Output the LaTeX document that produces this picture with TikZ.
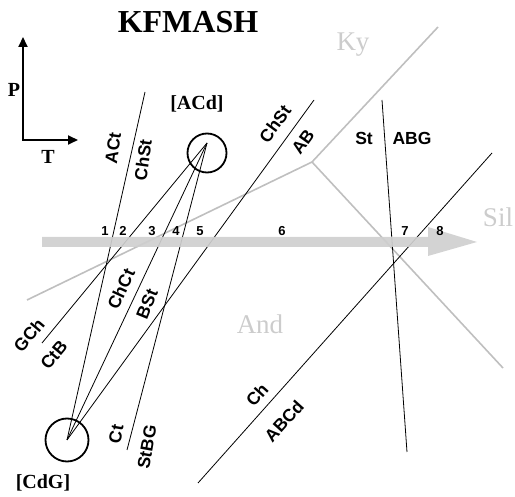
\documentclass[tikz,border=0pt]{standalone}
\usepackage{fontspec}
\setmainfont{Liberation Serif}
\setsansfont{Liberation Sans}
\usetikzlibrary{positioning, arrows.meta, calc}

\begin{document}
\begin{tikzpicture}[
    x=1pt, y=-1pt,
    rxn/.style={black, line width=0.8pt},
    alsi/.style={gray!50, line width=1.6pt},
    axis/.style={
        line width=1.8pt,
        {Triangle[length=10pt,width=9pt]}-{Triangle[length=10pt,width=9pt]}
    },
    ipoint/.style={circle, draw, line width=1.8pt, inner sep=0pt},
    rlabel/.style={font=\sffamily\bfseries\fontsize{17.5}{17.5}\selectfont, inner sep=0pt},
    field/.style={font=\fontsize{27}{27}\selectfont, text=gray!40, inner sep=0pt},
    num/.style={font=\sffamily\bfseries\fontsize{13}{13}\selectfont, inner sep=0pt},
    ptlabel/.style={font=\bfseries\fontsize{20}{20}\selectfont, inner sep=0pt},
    band/.style={fill=gray!38, draw=none, opacity=0.92}
]
\useasboundingbox (0,0) rectangle (515,497);

% ===== 标题与 P-T 坐标轴 =====
\node[font=\bfseries\fontsize{32}{32}\selectfont] (title) at (188,22) {KFMASH};
\coordinate (O) at (23,140);
\coordinate (Ptip) at (23,37);
\coordinate (Ttip) at (78,140);
\draw[axis] (Ptip) -- (O) -- (Ttip);
\node[ptlabel] (P) at (14,90) {P};
\node[ptlabel] (T) at (48,157) {T};

% ===== 不变点 =====
\coordinate (ACd) at (207,143);
\coordinate (CdG) at (67,440);
\node[ipoint, minimum size=39pt] (ACdc) at (207,153) {};
\node[ipoint, minimum size=43pt] (CdGc) at (67,440) {};
\node[ptlabel] (lACd) at (197,104) {[ACd]};
\node[ptlabel] (lCdG) at (43,483) {[CdG]};

% ===== Al2SiO5 相界(灰线)=====
\coordinate (tp) at (312,162);
\coordinate (kyend) at (438,27);
\coordinate (andend) at (27,300);
\coordinate (silend) at (503,368);
\foreach \e in {kyend, andend, silend} {
    \draw[alsi] (tp) -- (\e);
}
\node[field] (Ky) at (353,45) {Ky};
\node[field] (Sil) at (498,217) {Sil};
\node[field] (And) at (260,324) {And};

% ===== 反应线 =====
\coordinate (actend) at (145,92);
\coordinate (gchend) at (42,343);
\coordinate (stbgend) at (127,450);
\coordinate (chstend) at (314,100);
\coordinate (chlow) at (198,483);
\coordinate (chhigh) at (492,153);
\coordinate (sttop) at (382,100);
\coordinate (stbot) at (407,452);
\draw[rxn] (actend) -- (CdG);
\draw[rxn] (ACd) -- (gchend);
\draw[rxn] (ACd) -- (CdG);
\draw[rxn] (ACd) -- (stbgend);
\draw[rxn] (CdG) -- (chstend);
\draw[rxn] (chlow) -- (chhigh);
\draw[rxn] (sttop) -- (stbot);

% ===== 反应标签 =====
\foreach \x/\y/\a/\t in {
    113/148/82/ACt, 143/160/82/ChSt,
    275/124/54/ChSt, 303/142/54/AB,
    364/138/0/St, 412/138/0/ABG,
    29/335/50/GCh, 54/355/50/CtB,
    121/289/65/ChCt, 147/304/68/BSt,
    116/434/80/Ct, 147/447/80/StBG,
    257/395/48/Ch, 284/421/48/ABCd
}{
    \node[rlabel, rotate=\a] at (\x,\y) {\t};
}

% ===== P-T 路径箭头 =====
\fill[band] (42,237) -- (428,237) -- (428,227) -- (477,242)
    -- (428,256) -- (428,247) -- (42,247) -- cycle;

% ===== 区域编号 =====
\foreach \x/\n in {105/1, 123/2, 152/3, 176/4, 200/5, 282/6, 405/7, 440/8} {
    \node[num] (n\n) at (\x,231) {\n};
}

\end{tikzpicture}
\end{document}
